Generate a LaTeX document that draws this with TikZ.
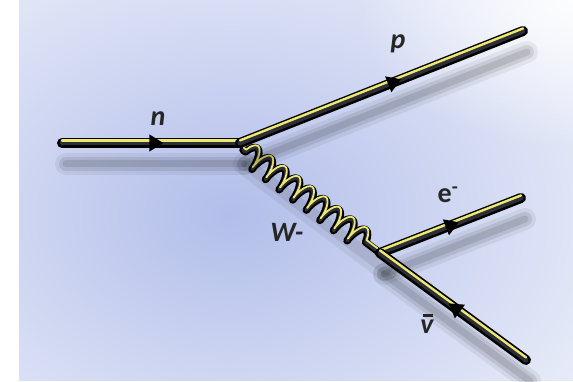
\documentclass[tikz,border=0pt]{standalone}
\usepackage{fontspec}
\setmainfont{Carlito}
\usetikzlibrary{decorations.pathmorphing,decorations.markings,arrows.meta,fadings}
\tikzfading[name=softfade, inner color=transparent!0, outer color=transparent!100]
\definecolor{bgblue}{RGB}{178,190,234}
\definecolor{bgedge}{RGB}{238,241,250}
\definecolor{hilite}{RGB}{238,232,112}
\definecolor{core}{RGB}{45,47,56}
\tikzset{
  shadowpart/.style={preaction={draw=black, opacity=0.06, line width=22pt, line cap=round, transform canvas={shift={(4pt,-21pt)}}},
                     preaction={draw=black, opacity=0.09, line width=14pt, line cap=round, transform canvas={shift={(4pt,-21pt)}}},
                     preaction={draw=black, opacity=0.10, line width=7pt, line cap=round, transform canvas={shift={(4pt,-21pt)}}}},
  tube/.style={shadowpart,
               preaction={draw=black, line width=10pt, line cap=round, line join=round},
               draw=core, line width=5pt, line cap=round, line join=round,
               postaction={draw=hilite, line width=2.4pt, line cap=round, line join=round, transform canvas={yshift=2.6pt}}},
  thintube/.style={preaction={draw=black, line width=7.5pt, line cap=round, line join=round},
               draw=core, line width=3.5pt, line cap=round, line join=round,
               postaction={draw=hilite, line width=1.8pt, line cap=round, line join=round, transform canvas={shift={(0.8pt,2.2pt)}}}},
  softshadow/.style={draw=black, opacity=#1, line cap=round, transform canvas={shift={(6pt,-16pt)}}},
  midarrow/.style={postaction={decorate, decoration={markings, mark=at position #1 with {\arrow[black]{Triangle[length=14pt,width=16pt]}}}}},
  revarrow/.style={postaction={decorate, decoration={markings, mark=at position #1 with {\arrowreversed[black]{Triangle[length=14pt,width=16pt]}}}}},
  coilpath/.style={decorate, decoration={coil, amplitude=10pt, segment length=17pt, aspect=0.3, pre length=3pt, post length=3pt}},
  lbl/.style={font=\fontsize{28}{30}\selectfont\bfseries\itshape, text=black!85},
  lblup/.style={font=\fontsize{28}{30}\selectfont\bfseries, text=black!85}
}
\begin{document}
\begin{tikzpicture}[x=1pt,y=-1pt]
  \useasboundingbox (0,0) rectangle (573,382);
  \fill[white] (0,0) rectangle (573,382);
  \begin{scope}
    \clip (19,0) rectangle (573,380);
    \fill[bgedge] (19,0) rectangle (573,380);
    \shade[inner color=bgblue, outer color=bgedge] (230,215) ellipse (460 and 340);
    \fill[white, path fading=softfade, opacity=0.9] (573,0) ellipse (220 and 150);
  \end{scope}
  \coordinate (nstart) at (62,143);
  \coordinate (v1) at (240,143);
  \coordinate (pend) at (523,31);
  \coordinate (wstart) at (243,150);
  \coordinate (v2) at (380,253);
  \coordinate (eend) at (521,198);
  \coordinate (nuend) at (526,360);
  % W boson
  \draw[softshadow=0.06, line width=24pt] (wstart) -- (v2);
  \draw[softshadow=0.08, line width=12pt] (wstart) -- (v2);
  \draw[thintube, coilpath] (wstart) -- (v2);
  % fermion lines
  \draw[tube, midarrow=0.57] (nstart) -- (v1);
  \draw[tube, midarrow=0.57] (v1) -- (pend);
  \draw[tube, midarrow=0.56] (v2) -- (eend);
  \draw[tube, revarrow=0.47] (v2) -- (nuend);
  % labels
  \node[lbl] (ln) at (158,119) {n};
  \node[lbl] (lp) at (398,44) {p};
  \node[lbl] (lw) at (287,232) {W-};
  \node[lblup] (le) at (448,195) {e\textsuperscript{-}};
  \node[lbl] (lnu) at (427,327) {v};
  \draw[black!85, line width=2.4pt] ([xshift=-4pt,yshift=1pt]lnu.north) -- ([xshift=6pt,yshift=1pt]lnu.north);
\end{tikzpicture}
\end{document}
